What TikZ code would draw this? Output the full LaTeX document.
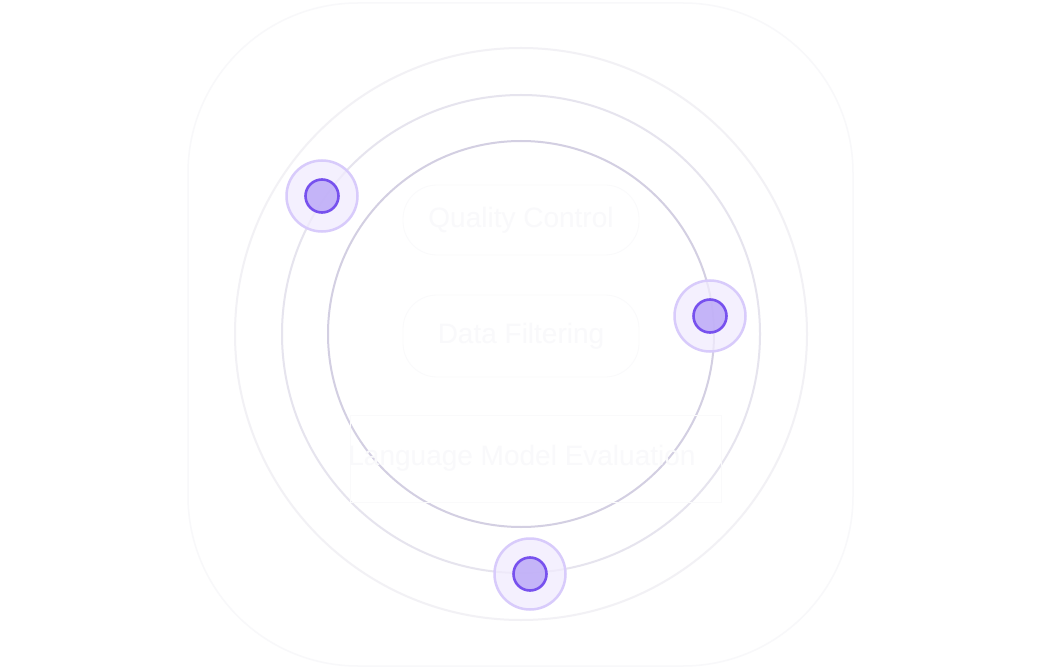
\documentclass[tikz,border=0pt]{standalone}
\usepackage{fontspec}
\setmainfont{Liberation Sans}
\begin{document}
\begin{tikzpicture}[x=1pt,y=-1pt,
  halo/.style={circle,minimum size=71pt,inner sep=0pt,fill=haloFill,draw=haloLine,line width=2.5pt,fill opacity=0.75},
  dot/.style={circle,minimum size=33pt,inner sep=0pt,fill=dotFill,fill opacity=0.8,draw=dotLine,line width=2.6pt},
  pill/.style={draw=pillLine,line width=0.8pt,rounded corners=34pt,minimum width=236pt,minimum height=70pt,inner sep=0pt,text=ghostText,font=\fontsize{28}{30}\selectfont},
  ghost/.style={text=ghostText,font=\fontsize{28}{30}\selectfont,inner sep=0pt}]
\definecolor{haloFill}{HTML}{F1ECFE}
\definecolor{haloLine}{HTML}{D8CBFB}
\definecolor{dotFill}{HTML}{B9A6F7}
\definecolor{dotLine}{HTML}{7751EE}
\definecolor{ringA}{HTML}{D3CFE2}
\definecolor{ringB}{HTML}{E6E4EE}
\definecolor{ringC}{HTML}{F2F1F5}
\definecolor{frame}{HTML}{F8F8FA}
\definecolor{pillLine}{HTML}{FAFAFB}
\definecolor{ghostText}{HTML}{F9F9FB}
\useasboundingbox (0,0) rectangle (1041,668);
\fill[white] (0,0) rectangle (1041,668);
\coordinate (c) at (521,334);
% outer frame
\draw[frame,line width=1.5pt,rounded corners=170pt] (188,3) rectangle (853,666);
% rings
\draw[ringC,line width=2pt] (c) circle (286pt);
\draw[ringB,line width=2pt] (c) circle (239pt);
\draw[ringA,line width=2pt] (c) circle (193pt);
% faint labels
\node[pill] (qc) at (521,220) {Quality Control};
\node[pill,minimum height=82pt] (df) at (521,336) {Data Filtering};
\draw[pillLine,line width=0.6pt] (350,415) rectangle (721,502);
\node[ghost] (lme) at (522,458) {Language Model Evaluation};
% markers
\node[halo] (h1) at (322,196) {};
\node[dot] (d1) at (322,196) {};
\node[halo] (h2) at (710,316) {};
\node[dot] (d2) at (710,316) {};
\node[halo] (h3) at (530,574) {};
\node[dot] (d3) at (530,574) {};
\end{tikzpicture}
\end{document}
